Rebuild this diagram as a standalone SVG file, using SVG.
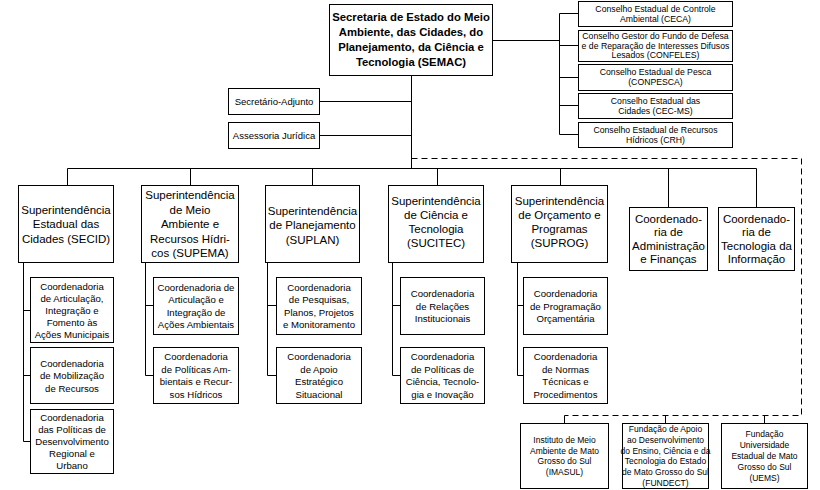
<svg xmlns="http://www.w3.org/2000/svg" width="820" height="490" viewBox="0 0 820 490">
<style>
rect{fill:#fff;stroke:#000;stroke-width:1}
.ln{fill:none;stroke:#000;stroke-width:1}
.dash{fill:none;stroke:#000;stroke-width:1;stroke-dasharray:6,4}
text{font-family:"Liberation Sans",Arial,sans-serif;fill:#000;text-anchor:middle}
.t0{font-size:11.3px;font-weight:bold}
.t1{font-size:11.5px}
.t2{font-size:9.6px}
.t3{font-size:8.7px}
.t4{font-size:8.5px}
.t5{font-size:9.5px}
</style>
<rect x="0" y="0" width="820" height="490" style="fill:#fff;stroke:none"/>
<g id="connectors">
<path class="ln" d="M492.5 40.5H559.5M559.5 13.5V134.5M559.5 13.5H578.5M559.5 45.5H578.5M559.5 77.5H578.5M559.5 105.5H578.5M559.5 134.5H578.5"/>
<path class="ln" d="M411.5 75.5V168.5M319.5 101.5H411.5M319.5 135.5H411.5"/>
<path class="ln" d="M67.5 168.5H756.5M67.5 168.5V185.5M190.5 168.5V185.5M312.5 168.5V185.5M437.5 168.5V185.5M560.5 168.5V185.5M668.5 168.5V207.5M756.5 168.5V207.5"/>
<path class="dash" d="M411.5 158.5H801.5V415.5H564.5"/>
<path class="ln" d="M564.5 415.5V423.5M665.5 415.5V423.5M764.5 415.5V423.5"/>
<path class="ln" d="M23.5 262.5V441.5M23.5 310.5H30.5M23.5 375.5H30.5M23.5 441.5H30.5"/>
<path class="ln" d="M145.5 262.5V375.5M145.5 305.5H153.5M145.5 375.5H153.5"/>
<path class="ln" d="M267.5 262.5V375.5M267.5 305.5H276.5M267.5 375.5H276.5"/>
<path class="ln" d="M392.5 262.5V375.5M392.5 305.5H400.5M392.5 375.5H400.5"/>
<path class="ln" d="M517.5 262.5V375.5M517.5 305.5H523.5M517.5 375.5H523.5"/>
</g>
<g id="semac"><rect x="329.5" y="4.5" width="163" height="71"/>
<text class="t0"><tspan x="411" y="21">Secretaria de Estado do Meio</tspan><tspan x="411" y="36">Ambiente, das Cidades, do</tspan><tspan x="411" y="51">Planejamento, da Ciência e</tspan><tspan x="411" y="66">Tecnologia (SEMAC)</tspan></text></g>
<g id="ceca"><rect x="578.5" y="1.5" width="154" height="25"/>
<text class="t3"><tspan x="655.5" y="11.5">Conselho Estadual de Controle</tspan><tspan x="655.5" y="21.5">Ambiental (CECA)</tspan></text></g>
<g id="confeles"><rect x="578.5" y="30.5" width="154" height="31"/>
<text class="t3"><tspan x="655.5" y="39">Conselho Gestor do Fundo de Defesa</tspan><tspan x="655.5" y="48.5">e de Reparação de Interesses Difusos</tspan><tspan x="655.5" y="58">Lesados (CONFELES)</tspan></text></g>
<g id="conpesca"><rect x="578.5" y="64.5" width="154" height="26"/>
<text class="t3"><tspan x="655.5" y="75">Conselho Estadual de Pesca</tspan><tspan x="655.5" y="85">(CONPESCA)</tspan></text></g>
<g id="cecms"><rect x="578.5" y="93.5" width="154" height="25"/>
<text class="t3"><tspan x="655.5" y="103.5">Conselho Estadual das</tspan><tspan x="655.5" y="113.5">Cidades (CEC-MS)</tspan></text></g>
<g id="crh"><rect x="578.5" y="122.5" width="154" height="25"/>
<text class="t3"><tspan x="655.5" y="132.5">Conselho Estadual de Recursos</tspan><tspan x="655.5" y="142.5">Hídricos (CRH)</tspan></text></g>
<g id="adjunto"><rect x="228.5" y="88.5" width="91" height="26"/>
<text class="t5" x="274" y="105">Secretário-Adjunto</text></g>
<g id="juridica"><rect x="228.5" y="122.5" width="91" height="26"/>
<text class="t5" x="274" y="139">Assessoria Jurídica</text></g>
<g id="secid"><rect x="18.5" y="185.5" width="95" height="77"/>
<text class="t1"><tspan x="66" y="213.5">Superintendência</tspan><tspan x="66" y="228">Estadual das</tspan><tspan x="66" y="242.5">Cidades (SECID)</tspan></text></g>
<g id="supema"><rect x="141.5" y="185.5" width="97" height="77"/>
<text class="t1"><tspan x="190" y="199">Superintendência</tspan><tspan x="190" y="213.5">de Meio</tspan><tspan x="190" y="228">Ambiente e</tspan><tspan x="190" y="242.5">Recursos Hídri-</tspan><tspan x="190" y="257">cos (SUPEMA)</tspan></text></g>
<g id="suplan"><rect x="265.5" y="185.5" width="94" height="77"/>
<text class="t1"><tspan x="312.5" y="214.5">Superintendência</tspan><tspan x="312.5" y="229">de Planejamento</tspan><tspan x="312.5" y="243.5">(SUPLAN)</tspan></text></g>
<g id="sucitec"><rect x="388.5" y="185.5" width="95" height="77"/>
<text class="t1"><tspan x="436" y="205">Superintendência</tspan><tspan x="436" y="219">de Ciência e</tspan><tspan x="436" y="233">Tecnologia</tspan><tspan x="436" y="247">(SUCITEC)</tspan></text></g>
<g id="suprog"><rect x="511.5" y="185.5" width="96" height="77"/>
<text class="t1"><tspan x="559.5" y="205">Superintendência</tspan><tspan x="559.5" y="219">de Orçamento e</tspan><tspan x="559.5" y="233">Programas</tspan><tspan x="559.5" y="247">(SUPROG)</tspan></text></g>
<g id="admin"><rect x="629.5" y="207.5" width="78" height="63"/>
<text class="t1"><tspan x="668.5" y="222.75">Coordenado-</tspan><tspan x="668.5" y="236.25">ria de</tspan><tspan x="668.5" y="249.75">Administração</tspan><tspan x="668.5" y="263.25">e Finanças</tspan></text></g>
<g id="ti"><rect x="718.5" y="207.5" width="76" height="63"/>
<text class="t1"><tspan x="756.5" y="222.75">Coordenado-</tspan><tspan x="756.5" y="236.25">ria de</tspan><tspan x="756.5" y="249.75">Tecnologia da</tspan><tspan x="756.5" y="263.25">Informação</tspan></text></g>
<g id="secid-c1"><rect x="30.5" y="277.5" width="83" height="65"/>
<text class="t2"><tspan x="72" y="289.5">Coordenadoria</tspan><tspan x="72" y="301.5">de Articulação,</tspan><tspan x="72" y="313.5">Integração e</tspan><tspan x="72" y="325.5">Fomento às</tspan><tspan x="72" y="337.5">Ações Municipais</tspan></text></g>
<g id="secid-c2"><rect x="30.5" y="347.5" width="83" height="56"/>
<text class="t2"><tspan x="72" y="366.5">Coordenadoria</tspan><tspan x="72" y="379">de Mobilização</tspan><tspan x="72" y="391.5">de Recursos</tspan></text></g>
<g id="secid-c3"><rect x="30.5" y="409.5" width="83" height="64"/>
<text class="t2"><tspan x="72" y="421">Coordenadoria</tspan><tspan x="72" y="433">das Políticas de</tspan><tspan x="72" y="445">Desenvolvimento</tspan><tspan x="72" y="457">Regional e</tspan><tspan x="72" y="469">Urbano</tspan></text></g>
<g id="supema-c1"><rect x="153.5" y="277.5" width="85" height="57"/>
<text class="t2"><tspan x="196" y="290.75">Coordenadoria de</tspan><tspan x="196" y="303.25">Articulação e</tspan><tspan x="196" y="315.75">Integração de</tspan><tspan x="196" y="328.25">Ações Ambientais</tspan></text></g>
<g id="supema-c2"><rect x="153.5" y="347.5" width="85" height="56"/>
<text class="t2"><tspan x="196" y="360.25">Coordenadoria</tspan><tspan x="196" y="372.75">de Políticas Am-</tspan><tspan x="196" y="385.25">bientais e Recur-</tspan><tspan x="196" y="397.75">sos Hídricos</tspan></text></g>
<g id="suplan-c1"><rect x="276.5" y="277.5" width="85" height="57"/>
<text class="t2"><tspan x="319" y="290.75">Coordenadoria</tspan><tspan x="319" y="303.25">de Pesquisas,</tspan><tspan x="319" y="315.75">Planos, Projetos</tspan><tspan x="319" y="328.25">e Monitoramento</tspan></text></g>
<g id="suplan-c2"><rect x="276.5" y="347.5" width="85" height="56"/>
<text class="t2"><tspan x="319" y="360.25">Coordenadoria</tspan><tspan x="319" y="372.75">de Apoio</tspan><tspan x="319" y="385.25">Estratégico</tspan><tspan x="319" y="397.75">Situacional</tspan></text></g>
<g id="sucitec-c1"><rect x="400.5" y="277.5" width="84" height="57"/>
<text class="t2"><tspan x="442.5" y="297">Coordenadoria</tspan><tspan x="442.5" y="309.5">de Relações</tspan><tspan x="442.5" y="322">Institucionais</tspan></text></g>
<g id="sucitec-c2"><rect x="400.5" y="347.5" width="84" height="56"/>
<text class="t2"><tspan x="442.5" y="360.25">Coordenadoria</tspan><tspan x="442.5" y="372.75">de Políticas de</tspan><tspan x="442.5" y="385.25">Ciência, Tecnolo-</tspan><tspan x="442.5" y="397.75">gia e Inovação</tspan></text></g>
<g id="suprog-c1"><rect x="523.5" y="277.5" width="84" height="57"/>
<text class="t2"><tspan x="565.5" y="297">Coordenadoria</tspan><tspan x="565.5" y="309.5">de Programação</tspan><tspan x="565.5" y="322">Orçamentária</tspan></text></g>
<g id="suprog-c2"><rect x="523.5" y="347.5" width="84" height="56"/>
<text class="t2"><tspan x="565.5" y="360.25">Coordenadoria</tspan><tspan x="565.5" y="372.75">de Normas</tspan><tspan x="565.5" y="385.25">Técnicas e</tspan><tspan x="565.5" y="397.75">Procedimentos</tspan></text></g>
<g id="imasul"><rect x="520.5" y="423.5" width="88" height="65"/>
<text class="t4"><tspan x="564.5" y="442.8">Instituto de Meio</tspan><tspan x="564.5" y="453.6">Ambiente de Mato</tspan><tspan x="564.5" y="464.4">Grosso do Sul</tspan><tspan x="564.5" y="475.2">(IMASUL)</tspan></text></g>
<g id="fundect"><rect x="622.5" y="423.5" width="86" height="65"/>
<text class="t4"><tspan x="665.5" y="432">Fundação de Apoio</tspan><tspan x="665.5" y="442.8">ao Desenvolvimento</tspan><tspan x="665.5" y="453.6">do Ensino, Ciência e da</tspan><tspan x="665.5" y="464.4">Tecnologia do Estado</tspan><tspan x="665.5" y="475.2">de Mato Grosso do Sul</tspan><tspan x="665.5" y="486">(FUNDECT)</tspan></text></g>
<g id="uems"><rect x="721.5" y="423.5" width="86" height="65"/>
<text class="t4"><tspan x="764.5" y="437.4">Fundação</tspan><tspan x="764.5" y="448.2">Universidade</tspan><tspan x="764.5" y="459">Estadual de Mato</tspan><tspan x="764.5" y="469.8">Grosso do Sul</tspan><tspan x="764.5" y="480.6">(UEMS)</tspan></text></g>
</svg>
